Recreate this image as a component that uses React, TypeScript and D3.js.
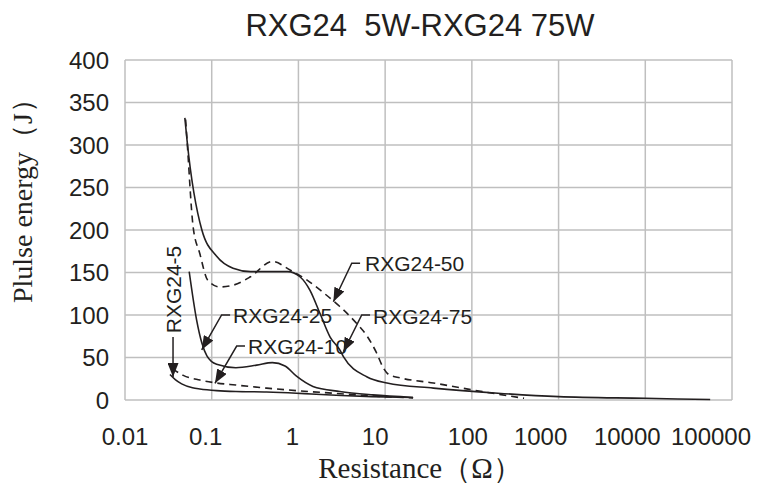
import * as d3 from 'd3'

const W = 760
const H = 490
const MARGIN = { top: 60, right: 28, bottom: 90, left: 125 }

const TITLE = 'RXG24  5W-RXG24 75W'
const X_TITLE = 'Resistance（Ω）'
const Y_TITLE = 'Plulse energy（J）'

const xTicks = [0.01, 0.1, 1, 10, 100, 1000, 10000, 100000]
// labels sit a little left of their gridlines in the source, so the last one fits
const xTickShift = [0, -6, -6, -10, -4, -18, -18, -21]
const yTicks = [0, 50, 100, 150, 200, 250, 300, 350, 400]

// [resistance Ω, pulse energy J]
const rxg5: [number, number][] = [
  [0.033, 30], [0.038, 24], [0.045, 19], [0.06, 14.5], [0.073, 13], [0.114, 11],
  [0.19, 10], [0.43, 9.5], [0.95, 8], [1.4, 7], [7, 4], [21, 3],
]
const rxg10: [number, number][] = [
  [0.035, 37], [0.047, 29], [0.073, 23.5], [0.114, 20], [0.19, 17.6], [0.43, 14],
  [0.95, 11], [2.5, 8], [9.5, 4], [21, 2.5],
]
const rxg25: [number, number][] = [
  [0.055, 151], [0.067, 94], [0.077, 67], [0.088, 52], [0.114, 42], [0.19, 38],
  [0.33, 41], [0.5, 44], [0.7, 40], [0.95, 28], [1.47, 16], [3, 10], [7.2, 6], [21, 3],
]
const rxg50: [number, number][] = [
  [0.05, 330], [0.052, 305], [0.061, 204], [0.073, 172], [0.09, 141], [0.125, 133],
  [0.176, 135], [0.28, 145], [0.5, 163], [0.8, 153], [1.26, 141], [1.9, 127],
  [3, 110], [4.7, 90], [6.2, 75], [8, 55], [9.5, 38], [11, 30], [15, 26], [36, 20],
  [100, 12], [400, 2],
]
const rxg75: [number, number][] = [
  [0.049, 332], [0.052, 305], [0.077, 200], [0.114, 169], [0.176, 155], [0.28, 151],
  [0.75, 151], [1.04, 145], [1.36, 129], [1.77, 102], [2.32, 74], [3, 59], [3.3, 51],
  [6.2, 27], [10.5, 20], [36, 14], [200, 8], [1000, 4], [10000, 2], [56000, 0.5],
]

const series = [
  { name: 'RXG24-5', data: rxg5, dashed: false },
  { name: 'RXG24-10', data: rxg10, dashed: true },
  { name: 'RXG24-25', data: rxg25, dashed: false },
  { name: 'RXG24-50', data: rxg50, dashed: true },
  { name: 'RXG24-75', data: rxg75, dashed: false },
]

// callouts: label anchor, leader points ending at arrow tip (data units)
const callouts = [
  { text: 'RXG24-5', at: [0.0358, 130], vertical: true, leader: [[0.0358, 74], [0.0358, 27]] },
  { text: 'RXG24-25', at: [0.176, 99], vertical: false, leader: [[0.163, 100], [0.13, 100], [0.0767, 59]] },
  { text: 'RXG24-10', at: [0.262, 63], vertical: false, leader: [[0.242, 63.5], [0.194, 63.5], [0.109, 19.6]] },
  { text: 'RXG24-50', at: [5.86, 161], vertical: false, leader: [[5.14, 161], [4.12, 161], [2.53, 115.6]] },
  { text: 'RXG24-75', at: [7.24, 98], vertical: false, leader: [[6.7, 100], [5.37, 100], [3.3, 56.8]] },
]

const INK = '#231f20'
const GRID = '#bfbfbf'
const SANS = 'Arial, "Liberation Sans", Helvetica, sans-serif'
const SERIF = '"Times New Roman", "Liberation Serif", serif'

export default function App() {
  const x = d3.scaleLog().domain([0.01, 100000]).range([MARGIN.left, W - MARGIN.right])
  const y = d3.scaleLinear().domain([0, 400]).range([H - MARGIN.bottom, MARGIN.top])

  const line = d3
    .line<[number, number]>()
    .x((d) => x(d[0]))
    .y((d) => y(d[1]))
    .curve(d3.curveMonotoneX)

  const leader = d3
    .line<number[]>()
    .x((d) => x(d[0]))
    .y((d) => y(d[1]))

  const [x0, x1] = x.range()
  const [y0, y1] = y.range()

  return (
    <svg
      width={W}
      height={H}
      style={{ position: 'absolute', left: 0, top: 0, background: '#fff' }}
    >
      <defs>
        <marker
          id="arrow"
          viewBox="0 0 14 11"
          refX="14"
          refY="5.5"
          markerWidth="14"
          markerHeight="11"
          markerUnits="userSpaceOnUse"
          orient="auto"
        >
          <path d="M0,0 L14,5.5 L0,11 Z" fill={INK} />
        </marker>
      </defs>

      <text
        x={420}
        y={36}
        textAnchor="middle"
        fontFamily={SANS}
        fontSize={31}
        fill={INK}
        style={{ whiteSpace: 'pre' }}
      >
        {TITLE}
      </text>

      {/* gridlines */}
      <g stroke={GRID} strokeWidth={1.5}>
        {yTicks.map((t) => (
          <line key={'h' + t} x1={x0} x2={x1} y1={y(t)} y2={y(t)} />
        ))}
        {xTicks.map((t) => (
          <line key={'v' + t} x1={x(t)} x2={x(t)} y1={y0} y2={y1} />
        ))}
      </g>

      {/* y tick labels */}
      <g fontFamily={SANS} fontSize={24} fill={INK} textAnchor="end">
        {yTicks.map((t) => (
          <text key={t} x={x0 - 16} y={y(t)} dy="0.36em">
            {t}
          </text>
        ))}
      </g>

      {/* x tick labels */}
      <g fontFamily={SANS} fontSize={24} fill={INK} textAnchor="middle">
        {xTicks.map((t, i) => (
          <text key={t} x={x(t) + xTickShift[i]} y={y0 + 45}>
            {t}
          </text>
        ))}
      </g>

      {/* curves */}
      <g fill="none" stroke={INK} strokeWidth={1.6}>
        {series.map((s) => (
          <path
            key={s.name}
            d={line(s.data) ?? ''}
            strokeDasharray={s.dashed ? '7,5' : undefined}
          />
        ))}
      </g>

      {/* callouts */}
      <g fontFamily={SANS} fontSize={21} fill={INK}>
        {callouts.map((c) => (
          <g key={c.text}>
            <path
              d={leader(c.leader) ?? ''}
              fill="none"
              stroke={INK}
              strokeWidth={1.5}
              markerEnd="url(#arrow)"
            />
            {c.vertical ? (
              <text
                transform={`translate(${x(c.at[0])},${y(c.at[1])}) rotate(-90)`}
                textAnchor="middle"
                dy="0.36em"
              >
                {c.text}
              </text>
            ) : (
              <text x={x(c.at[0])} y={y(c.at[1])} dy="0.36em">
                {c.text}
              </text>
            )}
          </g>
        ))}
      </g>

      {/* axis titles */}
      <text
        x={420}
        y={478}
        textAnchor="middle"
        fontFamily={SERIF}
        fontSize={29}
        fill={INK}
      >
        {X_TITLE}
      </text>
      <text
        transform={`translate(32,194) rotate(-90)`}
        textAnchor="middle"
        fontFamily={SERIF}
        fontSize={28}
        fill={INK}
      >
        {Y_TITLE}
      </text>
    </svg>
  )
}
